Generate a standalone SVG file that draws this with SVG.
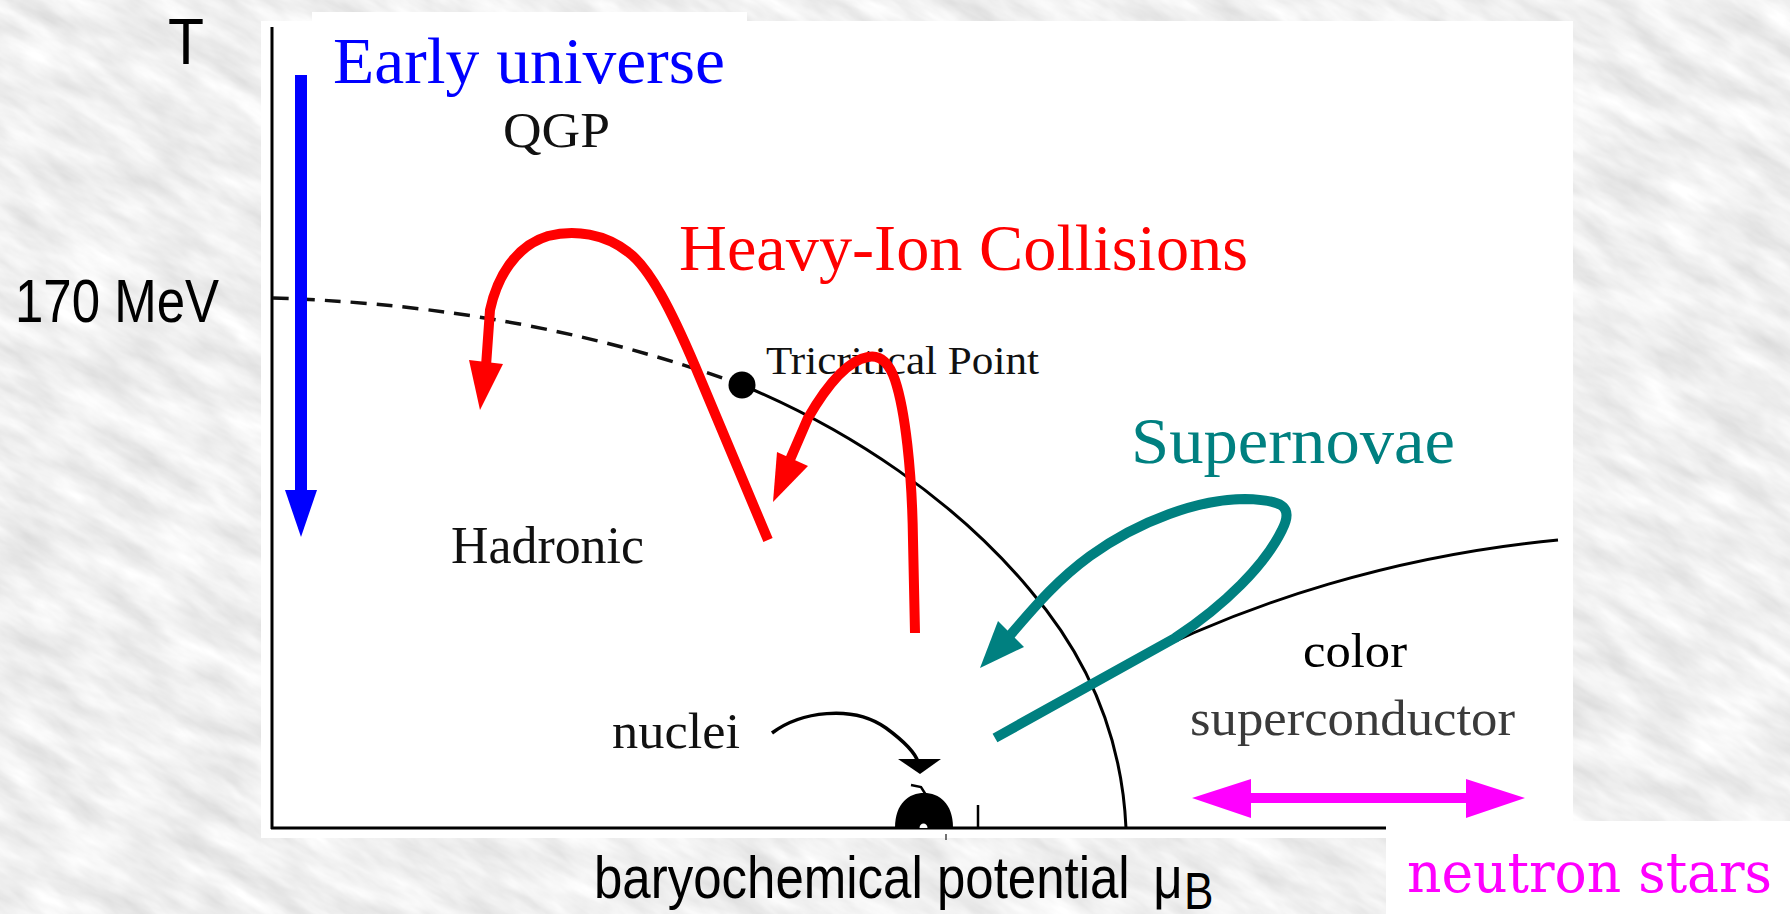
<svg xmlns="http://www.w3.org/2000/svg" width="1790" height="914" viewBox="0 0 1790 914">
  <defs>
    <filter id="marble" filterUnits="userSpaceOnUse" x="-700" y="-700" width="3200" height="2300">
      <feTurbulence type="fractalNoise" baseFrequency="0.014 0.045" numOctaves="4" seed="11"/>
      <feColorMatrix type="matrix" values="0.38 0 0 0 0.68  0.38 0 0 0 0.68  0.38 0 0 0 0.68  0 0 0 0 1"/>
    </filter>
    <style>
      .sans { font-family: "Liberation Sans", Arial, sans-serif; fill: #000; }
      .serif { font-family: "Liberation Serif", "Times New Roman", serif; }
      .lbl { font-family: "Liberation Serif", "Times New Roman", serif; fill: #111; }
      .panel { fill: #ffffff; }
      .axis { stroke: #000; stroke-width: 3; fill: none; }
      .phase { stroke: #000; stroke-width: 3; fill: none; }
      .thick { fill: none; stroke-width: 10; stroke-linecap: butt; stroke-linejoin: round; }
    </style>
  </defs>

  <!-- textured background -->
  <g id="background">
    <rect x="0" y="0" width="1790" height="914" fill="#dcdcdc"/>
    <g transform="rotate(30 895 457)">
      <rect x="-600" y="-600" width="3000" height="2100" filter="url(#marble)"/>
    </g>
  </g>

  <!-- white panels -->
  <g id="panels">
    <rect class="panel" x="312" y="12" width="435" height="12"/>
    <rect class="panel" x="261" y="21" width="1312" height="817"/>
    <rect class="panel" x="1386" y="821" width="404" height="93"/>
  </g>

  <!-- axes -->
  <g id="axes">
    <line class="axis" x1="272" y1="27" x2="272" y2="829"/>
    <line class="axis" x1="271" y1="828" x2="1386" y2="828"/>
    <line stroke="#000" stroke-width="2.5" x1="978" y1="805" x2="978" y2="828"/>
    <line stroke="#444" stroke-width="1.5" x1="946" y1="834" x2="946" y2="840"/>
  </g>

  <!-- phase boundaries -->
  <g id="phase-lines">
    <path d="M 273 298 C 400 302, 560 320, 728 380" fill="none" stroke="#111" stroke-width="3.5" stroke-dasharray="16 10"/>
    <path class="phase" d="M 742 385 C 850 430, 955 500, 1030 590 C 1090 660, 1122 740, 1126 828"/>
    <path class="phase" d="M 1120 668 C 1250 600, 1400 555, 1558 540"/>
  </g>

  <g id="tricritical-point">
    <circle cx="742" cy="385" r="13.5" fill="#000"/>
    <text class="lbl" x="766" y="374" font-size="40" textLength="273" lengthAdjust="spacingAndGlyphs">Tricritical Point</text>
  </g>

  <g id="nuclei">
    <path d="M 895 828 C 895 803, 909 793, 924 793 C 939 793, 953 803, 953 828 Z" fill="#000"/>
    <path d="M 919.5 828 C 919.5 822, 927.5 822, 927.5 828 Z" fill="#fff"/>
    <path d="M 911 785 L 921 787 L 926 795" fill="none" stroke="#000" stroke-width="2.5"/>
    <text class="lbl" x="612" y="748" font-size="50" textLength="128" lengthAdjust="spacingAndGlyphs">nuclei</text>
  </g>

  <!-- connectors -->
  <g id="connectors">
    <!-- nuclei pointer -->
    <path d="M 772 733 C 800 712, 852 704, 886 728 C 905 742, 915 752, 918 762" fill="none" stroke="#000" stroke-width="3.5"/>
    <polygon points="898,759 941,759 920,774" fill="#000"/>

    <!-- early universe arrow -->
    <line x1="301" y1="75" x2="301" y2="492" stroke="#0000ff" stroke-width="12"/>
    <polygon points="285,490 317,490 301,537" fill="#0000ff"/>

    <!-- heavy-ion collisions arrows -->
    <path class="thick" stroke="#ff0000" stroke-width="11" d="M 768 540 L 695 366 C 672 312, 650 268, 628 252 C 605 234, 575 229, 548 236 C 515 246, 497 278, 490 310 L 486 366"/>
    <polygon points="469,360 503,364 480,410" fill="#ff0000"/>
    <path class="thick" stroke="#ff0000" d="M 915 633 L 913 540 C 912 470, 905 410, 895 380 C 888 360, 878 355, 868 357 C 850 360, 830 380, 808 418 L 789 462"/>
    <polygon points="777,452 808,466 773,502" fill="#ff0000"/>

    <!-- supernovae arrow -->
    <path class="thick" stroke="#008080" d="M 995 738 L 1175 638 C 1225 605, 1265 565, 1282 530 C 1295 505, 1280 500, 1245 499 C 1200 499, 1140 520, 1090 556 C 1060 578, 1040 600, 1006 640"/>
    <polygon points="998,621 1024,647 980,668" fill="#008080"/>

    <!-- neutron stars double arrow -->
    <polygon points="1192,798 1251,779 1251,793 1466,793 1466,779 1525,798 1466,818 1466,803 1251,803 1251,818" fill="#ff00ff"/>
  </g>

  <!-- labels -->
  <g id="axis-labels">
    <text class="sans" x="168" y="64" font-size="64" textLength="36" lengthAdjust="spacingAndGlyphs">T</text>
    <text class="sans" x="15" y="322" font-size="62" textLength="204" lengthAdjust="spacingAndGlyphs">170 MeV</text>
    <text class="sans" transform="translate(594 898) scale(0.85 1)" font-size="60">baryochemical potential <tspan x="658">μ</tspan><tspan x="694" dy="11" font-size="52">B</tspan></text>
  </g>

  <g id="region-QGP">
    <text class="lbl" x="503" y="147" font-size="50" textLength="107" lengthAdjust="spacingAndGlyphs">QGP</text>
  </g>
  <g id="region-hadronic">
    <text class="lbl" x="451" y="563" font-size="52" textLength="193" lengthAdjust="spacingAndGlyphs">Hadronic</text>
  </g>
  <g id="region-csc">
    <text class="serif" x="1303" y="667" font-size="48" fill="#000" textLength="104" lengthAdjust="spacingAndGlyphs">color</text>
    <text class="serif" x="1190" y="735" font-size="50" fill="#3a3a3a" textLength="325" lengthAdjust="spacingAndGlyphs">superconductor</text>
  </g>

  <g id="label-early-universe">
    <text class="serif" x="333" y="83" font-size="65" fill="#0000ff" textLength="392" lengthAdjust="spacingAndGlyphs">Early universe</text>
  </g>
  <g id="label-heavy-ion">
    <text class="serif" x="679" y="270" font-size="65" fill="#ff0000" textLength="569" lengthAdjust="spacingAndGlyphs">Heavy-Ion Collisions</text>
  </g>
  <g id="label-supernovae">
    <text class="serif" x="1131" y="463" font-size="65" fill="#008080" textLength="324" lengthAdjust="spacingAndGlyphs">Supernovae</text>
  </g>
  <g id="label-neutron-stars">
    <text x="1407" y="892" font-family="'DejaVu Serif', 'Liberation Serif', serif" font-size="56" fill="#ff00ff" textLength="365" lengthAdjust="spacingAndGlyphs">neutron stars</text>
  </g>
</svg>
